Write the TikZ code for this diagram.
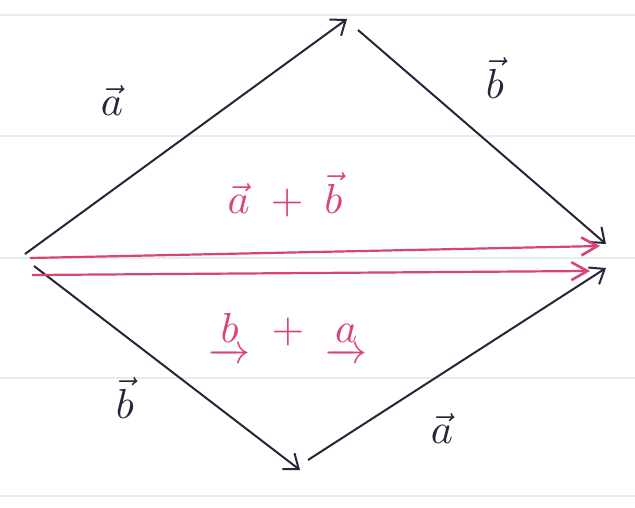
\documentclass[tikz,border=0pt]{standalone}
\usepackage{amsmath}
\usetikzlibrary{arrows.meta}
\definecolor{ink}{HTML}{26263A}
\definecolor{redink}{HTML}{D94470}
\definecolor{paper}{HTML}{E2EFEC}
\begin{document}
\begin{tikzpicture}[x=1pt,y=-1pt,
  vec/.style={line width=2pt, ink, -{Straight Barb[length=13pt,width=20pt,line width=2pt]}},
  sumvec/.style={line width=2.2pt, redink, -{Straight Barb[length=16pt,width=18pt,line width=2.6pt]}},
  lab/.style={ink, scale=4.2},
  redlab/.style={redink, scale=4.2},
  rule/.style={paper, line width=1.5pt}]
\useasboundingbox (0,0) rectangle (635,507);
\fill[white] (0,0) rectangle (635,507);
% lined paper
\foreach \y in {15,136,258,378,496} \draw[rule] (0,\y) -- (635,\y);
% vertices
\coordinate (L1) at (25,254);
\coordinate (T) at (347,19);
\coordinate (T2) at (358,30);
\coordinate (R1) at (606,244);
\coordinate (L2) at (34,266);
\coordinate (B) at (300,470);
\coordinate (B2) at (308,460);
\coordinate (R2) at (606,268);
\coordinate (L3) at (30,258);
\coordinate (R3) at (600,246);
\coordinate (L4) at (32,275);
\coordinate (R4) at (590,271);
% black vectors
\draw[vec] (L1) -- (T);
\draw[vec] (T2) -- (R1);
\draw[vec] (L2) -- (B);
\draw[vec] (B2) -- (R2);
% red sums
\draw[sumvec] (L3) -- (R3);
\draw[sumvec] (L4) -- (R4);
% labels
\node[lab] (la1) at (112,100) {$\vec{a}$};
\node[lab] (lb1) at (495,78) {$\vec{b}$};
\node[lab] (lb2) at (125,398) {$\vec{b}$};
\node[lab] (la2) at (442,428) {$\vec{a}$};
\node[redlab] (ab) at (285,195) {$\vec{a}\;+\;\vec{b}$};
\node[redlab] (ba) at (288,338) {$\underrightarrow{b}\;+\;\underrightarrow{a}$};
\end{tikzpicture}
\end{document}
